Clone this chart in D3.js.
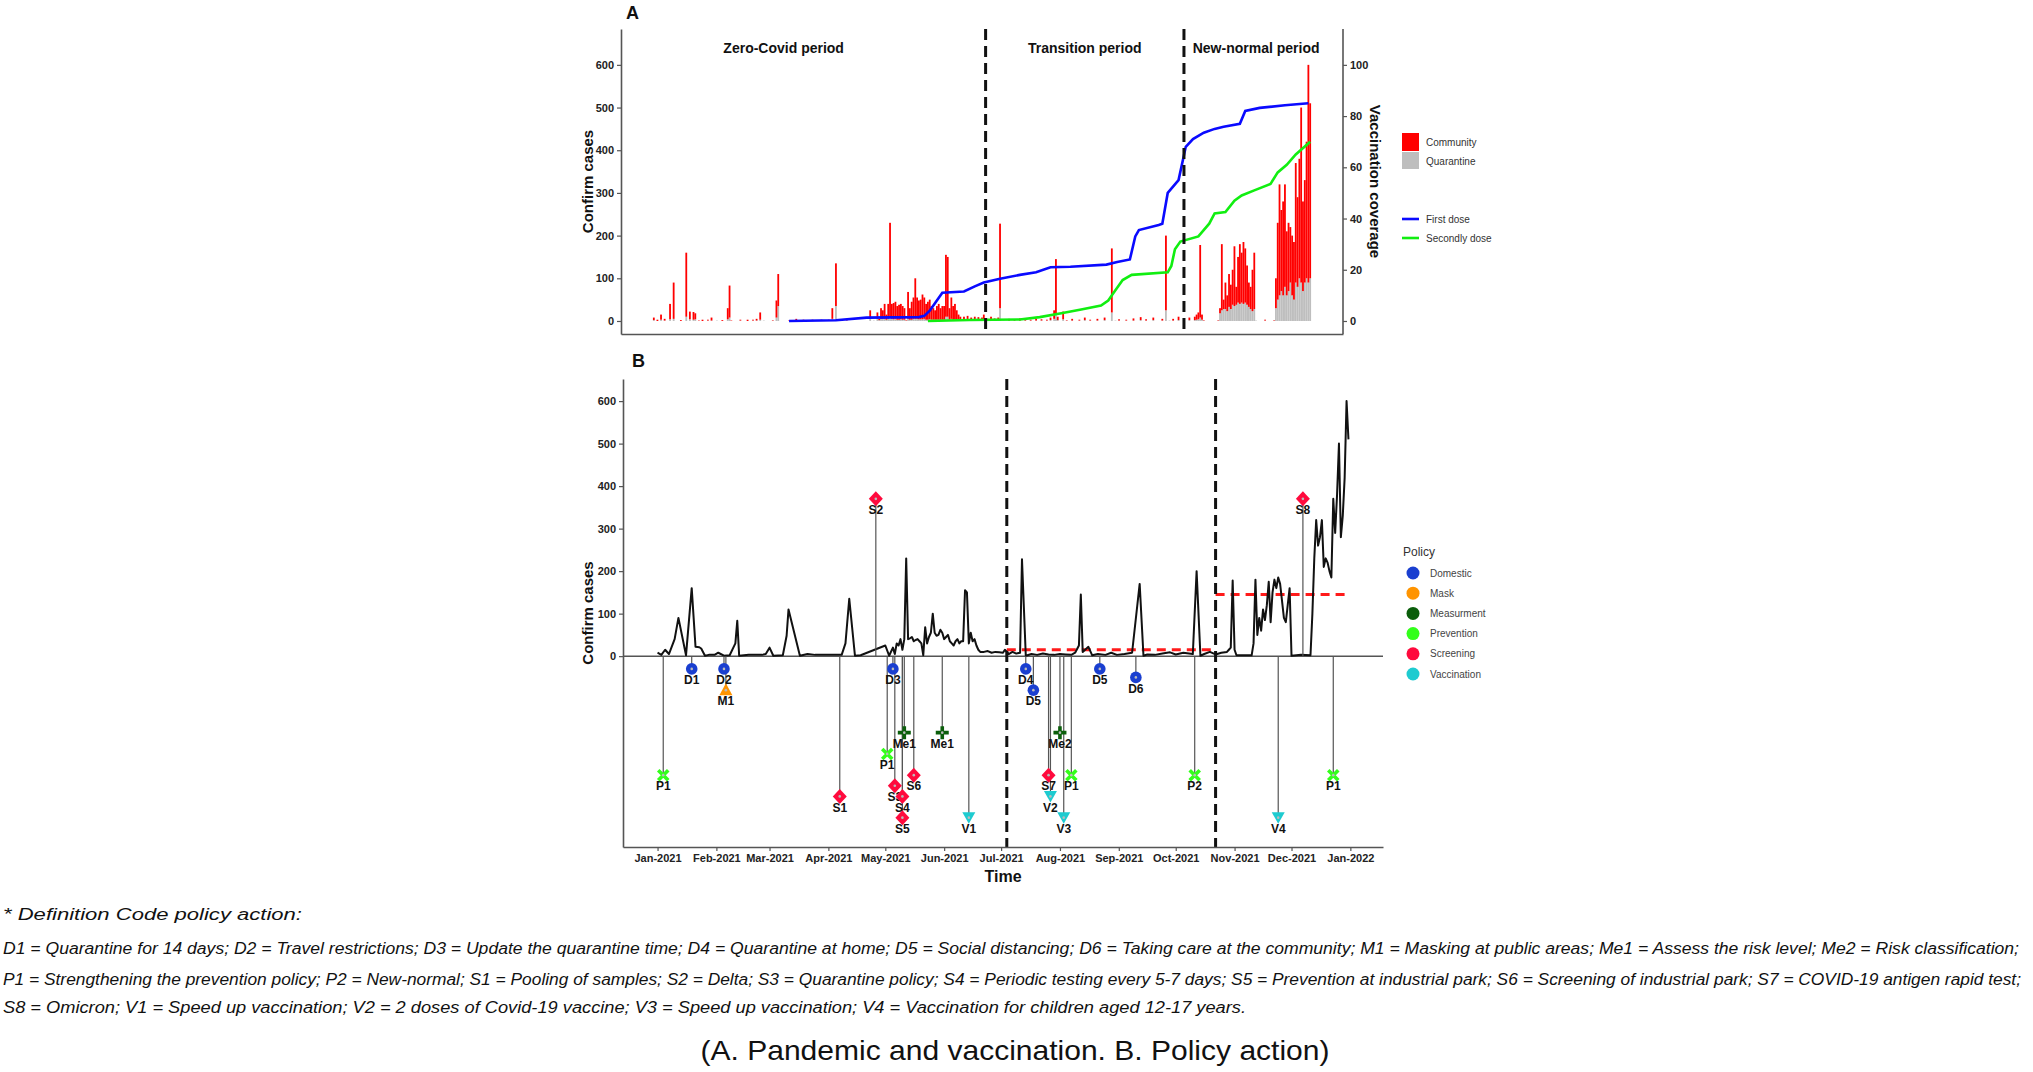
<!DOCTYPE html>
<html>
<head>
<meta charset="utf-8">
<script src="https://cdn.jsdelivr.net/npm/d3@7"></script>
<style>
  body { margin: 0; background: #fff; }
  svg { display: block; font-family: "Liberation Sans", Arial, sans-serif; }
</style>
</head>
<body>
<svg id="chart" width="2033" height="1072"></svg>
<script>
// ---- daily confirmed cases (days with reports only) ----
const caseDates = [
  "2021-01-01","2021-01-03","2021-01-05","2021-01-07","2021-01-10","2021-01-12","2021-01-16","2021-01-19",
  "2021-01-21","2021-01-23","2021-01-24","2021-01-26","2021-01-28","2021-01-31","2021-02-02","2021-02-05",
  "2021-02-08","2021-02-11","2021-02-12","2021-02-13","2021-02-18","2021-02-22","2021-02-25","2021-02-27",
  "2021-03-01","2021-03-03","2021-03-08","2021-03-10","2021-03-11","2021-03-17","2021-03-21","2021-03-25",
  "2021-03-30","2021-04-04","2021-04-08","2021-04-10","2021-04-12","2021-04-15","2021-04-18","2021-05-01",
  "2021-05-03","2021-05-05","2021-05-06","2021-05-07","2021-05-08","2021-05-09","2021-05-10","2021-05-11",
  "2021-05-12","2021-05-13","2021-05-14","2021-05-15","2021-05-16","2021-05-17","2021-05-18","2021-05-19",
  "2021-05-20","2021-05-21","2021-05-22","2021-05-23","2021-05-24","2021-05-25","2021-05-26","2021-05-27",
  "2021-05-28","2021-05-29","2021-05-30","2021-05-31","2021-06-01","2021-06-02","2021-06-03","2021-06-04",
  "2021-06-05","2021-06-06","2021-06-07","2021-06-08","2021-06-09","2021-06-10","2021-06-11","2021-06-12",
  "2021-06-13","2021-06-14","2021-06-15","2021-06-16","2021-06-17","2021-06-18","2021-06-19","2021-06-20",
  "2021-06-22","2021-06-24","2021-06-26","2021-06-28","2021-06-30","2021-07-02","2021-07-03","2021-07-05",
  "2021-07-07","2021-07-09","2021-07-11","2021-07-12","2021-07-14","2021-07-17","2021-07-20","2021-07-23",
  "2021-07-26","2021-07-29","2021-08-01","2021-08-04","2021-08-07","2021-08-09","2021-08-11","2021-08-12",
  "2021-08-13","2021-08-16","2021-08-18","2021-08-21","2021-08-25","2021-08-28","2021-08-31","2021-09-04",
  "2021-09-08","2021-09-12","2021-09-14","2021-09-16","2021-09-20","2021-09-24","2021-09-28","2021-10-01",
  "2021-10-05","2021-10-10","2021-10-12","2021-10-14","2021-10-16","2021-10-19","2021-10-22","2021-10-25",
  "2021-10-28","2021-10-29","2021-10-30","2021-10-31","2021-11-01","2021-11-02","2021-11-10","2021-11-11",
  "2021-11-12","2021-11-13","2021-11-14","2021-11-15","2021-11-16","2021-11-17","2021-11-18","2021-11-19",
  "2021-11-20","2021-11-21","2021-11-22","2021-11-23","2021-11-24","2021-11-25","2021-11-26","2021-11-27",
  "2021-11-28","2021-11-29","2021-11-30","2021-12-01","2021-12-06","2021-12-11","2021-12-12","2021-12-13",
  "2021-12-14","2021-12-15","2021-12-16","2021-12-17","2021-12-18","2021-12-19","2021-12-20","2021-12-21",
  "2021-12-22","2021-12-23","2021-12-24","2021-12-25","2021-12-26","2021-12-27","2021-12-28","2021-12-29",
  "2021-12-30","2021-12-31"
];
const communityCases = [
  6,3,12,4,36,85,2,150, 18,18,14,1,3,2,7,0, 2,26,75,1,2,3,2,4, 17,0,1,40,75,1,4,3,
  2,3,2,25,100,0,1,20, 0,15,3,25,20,35,12,35, 220,35,38,40,32,35,36,32, 27,1,63,27,42,50,95,50,
  44,46,58,50,37,42,46,32, 27,22,32,37,27,32,32,145, 140,27,50,32,36,22,12,8, 8,10,6,8,7,6,12,4,
  8,5,6,198,0,4,2,5, 3,2,4,3,2,6,20,130, 8,18,1,4,2,6,2,4, 6,150,0,3,2,5,7,3,
  6,4,175,0,4,8,3,6, 8,12,16,170,12,1,1,12, 155,22,62,37,77,57,82,140, 42,107,140,117,145,127,92,57,
  52,97,132,0,2,1,70,180, 260,190,220,240,150,160,130,140, 135,280,210,280,410,210,240,320, 510,410
];
const quarantineCases = [
  2,0,3,1,4,5,0,10, 4,3,4,0,0,1,1,1, 0,4,8,0,1,0,1,1, 3,1,1,8,35,0,1,0,
  1,0,1,5,35,1,1,5, 1,5,2,5,5,5,3,5, 10,5,4,5,3,3,4,3, 3,1,5,3,3,5,5,5,
  4,4,4,5,3,3,4,3, 3,3,3,3,3,3,3,10, 10,3,5,3,4,3,3,2, 2,2,2,2,2,2,3,1,
  2,1,2,30,1,1,1,1, 1,1,1,1,1,2,5,15, 2,4,1,1,1,2,1,1, 2,20,1,1,1,1,2,1,
  2,1,25,1,1,2,1,2, 2,3,4,8,3,1,1,18, 25,28,28,23,33,28,38,35, 38,43,40,43,40,43,38,33,
  28,23,28,1,1,1,30,50, 60,70,60,80,60,70,90,60, 50,90,80,100,90,70,90,100, 90,100
];

// ---- vaccination coverage (%) ----
const firstDoseDates = ["2021-03-17","2021-04-12","2021-04-29","2021-05-28","2021-05-31","2021-06-03","2021-06-06",
  "2021-06-10","2021-06-22","2021-06-28","2021-07-03","2021-07-12","2021-07-23","2021-08-01","2021-08-09",
  "2021-08-20","2021-09-09","2021-09-15","2021-09-22","2021-09-25","2021-09-27","2021-10-08","2021-10-10",
  "2021-10-13","2021-10-19","2021-10-23","2021-10-27","2021-11-02","2021-11-08","2021-11-13","2021-11-22",
  "2021-11-25","2021-12-03","2021-12-17","2021-12-30"];
const firstDoseValues = [0,0.3,1.3,1.5,2,4,7, 11,11.5,13.5,15,16.5,18,19,21, 21.2,22,23,24,33,35.5,37.5,38,
  50,55,68,71,73.5,75,75.8,77, 82,83.2,84.2,85];
const secondDoseDates = ["2021-06-02","2021-06-25","2021-07-23","2021-08-03","2021-08-15","2021-08-26","2021-09-06",
  "2021-09-10","2021-09-13","2021-09-18","2021-09-23","2021-10-13","2021-10-15","2021-10-17","2021-10-20",
  "2021-10-30","2021-11-05","2021-11-08","2021-11-14","2021-11-19","2021-11-23","2021-11-30","2021-12-09",
  "2021-12-13","2021-12-18","2021-12-23","2021-12-31"];
const secondDoseValues = [0,0.4,0.6,1.5,3,4.5,6, 8,11,16,18,19,21.5,28,31, 33,38,42,42.5,47,49,51,53.5,
  58,61,65,70];

// ---- periods ----
const periodBreaks = ["2021-07-04","2021-10-22"];
const periodNames = ["Zero-Covid period","Transition period","New-normal period"];
const periodLabelDates = ["2021-03-14","2021-08-28","2021-12-01"];
const meanStart = ["2021-07-04","2021-10-22"];
const meanEnd = ["2021-10-22","2022-01-01"];
const meanValues = [15, 145];

// ---- policy actions ----
const policyCodes = ["P1","D1","D2","M1","S1","S2","P1","D3","S3","S4","S5","Me1","S6","Me1","V1",
  "D4","D5","S7","V2","Me2","V3","P1","D5","D6","P2","V4","S8","P1"];
const policyDates = ["2021-01-04","2021-01-19","2021-02-05","2021-02-06","2021-04-07","2021-04-26","2021-05-02",
  "2021-05-05","2021-05-06","2021-05-10","2021-05-10","2021-05-11","2021-05-16","2021-05-31","2021-06-14",
  "2021-07-14","2021-07-18","2021-07-26","2021-07-27","2021-08-01","2021-08-03","2021-08-07","2021-08-22",
  "2021-09-10","2021-10-11","2021-11-24","2021-12-07","2021-12-23"];
const policyLevels = [-280,-30,-30,-80,-330,370,-230,-30,-305,-330,-380,-180,-280,-180,-380,
  -30,-80,-280,-330,-180,-380,-280,-30,-50,-280,-380,370,-280];
const policyTypeOf = ["Prevention","Domestic","Domestic","Mask","Screening","Screening","Prevention",
  "Domestic","Screening","Screening","Screening","Measurment","Screening","Measurment","Vaccination",
  "Domestic","Domestic","Screening","Vaccination","Measurment","Vaccination","Prevention","Domestic",
  "Domestic","Prevention","Vaccination","Screening","Prevention"];
const policyTypes = ["Domestic","Mask","Measurment","Prevention","Screening","Vaccination"];
const policyColors = ["#1a3fd0","#ff9400","#0b5e0b","#33ff1a","#ff0a3d","#1ecbd0"];

const monthTicks = ["2021-01-01","2021-02-01","2021-03-01","2021-04-01","2021-05-01","2021-06-01","2021-07-01",
  "2021-08-01","2021-09-01","2021-10-01","2021-11-01","2021-12-01","2022-01-01"];
const caseTicks = [0,100,200,300,400,500,600];
const coverageTicks = [0,20,40,60,80,100];

const footLines = [
  "* Definition Code policy action:",
  "D1 = Quarantine for 14 days; D2 = Travel restrictions; D3 = Update  the quarantine time; D4 =  Quarantine at home; D5 = Social distancing; D6 = Taking care at the community; M1 = Masking at public areas; Me1 = Assess the risk level; Me2 = Risk classification;",
  "P1 = Strengthening the prevention policy; P2 = New-normal; S1 = Pooling of samples; S2 = Delta; S3 = Quarantine policy; S4 = Periodic testing every 5-7 days; S5 = Prevention at industrial park; S6 = Screening of industrial park; S7 = COVID-19 antigen rapid test;",
  "S8 = Omicron; V1 = Speed up vaccination; V2 = 2 doses of Covid-19 vaccine; V3 = Speed up vaccination; V4 = Vaccination for children aged 12-17 years."
];
const caption = "(A. Pandemic and vaccination. B. Policy action)";

// ------------------------------------------------------------------
const parse = d3.timeParse("%Y-%m-%d");
const DAY = 864e5;
const cases = caseDates.map((d, i) => ({
  date: parse(d), comm: communityCases[i], quar: quarantineCases[i],
  total: communityCases[i] + quarantineCases[i]
}));
const policies = policyCodes.map((c, i) => ({
  code: c, date: parse(policyDates[i]), level: policyLevels[i], type: policyTypeOf[i]
}));
const colorOf = d3.scaleOrdinal().domain(policyTypes).range(policyColors);

const svg = d3.select("#chart");
svg.append("rect").attr("width", 2033).attr("height", 1072).attr("fill", "#fff");

const ext = [parse("2021-01-01"), parse("2021-12-31")];
function expand(e, f) {
  const span = e[1] - e[0];
  return [new Date(+e[0] - span * f), new Date(+e[1] + span * f)];
}

function styleAxis(g) {
  g.select(".domain").attr("stroke", "#555").attr("stroke-width", 1.6);
  g.selectAll(".tick line").attr("stroke", "#555").attr("stroke-width", 1.2);
  g.selectAll(".tick text")
    .attr("font-family", "Liberation Sans, Arial, sans-serif")
    .attr("font-weight", "bold").attr("font-size", 11).attr("fill", "#222");
}

// ================= Panel A =================
const A = { left: 621, right: 1343, top: 29, bottom: 334 };
const xA = d3.scaleTime().domain(expand(ext, 0.05)).range([A.left, A.right]);
const yA = d3.scaleLinear().domain([-30.5, 684]).range([A.bottom, A.top]);
const yV = d3.scaleLinear().domain([0, 100]).range([yA(0), yA(600)]);

const gA = svg.append("g");

// stacked bars
const barX = d => xA(new Date(+d.date - 0.5 * DAY));
const barW = d => xA(new Date(+d.date + 0.5 * DAY)) - barX(d);
gA.append("g").selectAll("rect").data(cases).enter().append("rect")
  .attr("x", barX).attr("width", barW)
  .attr("y", d => yA(d.quar)).attr("height", d => yA(0) - yA(d.quar))
  .attr("fill", "#bebebe");
gA.append("g").selectAll("rect").data(cases).enter().append("rect")
  .attr("x", barX).attr("width", barW)
  .attr("y", d => yA(d.quar + d.comm)).attr("height", d => yA(d.quar) - yA(d.quar + d.comm))
  .attr("fill", "#ff0000");

// vaccination lines
const vLine = d3.line().x(d => xA(d[0])).y(d => yV(d[1]));
gA.append("path")
  .datum(firstDoseDates.map((d, i) => [parse(d), firstDoseValues[i]]))
  .attr("d", vLine).attr("fill", "none").attr("stroke", "#0a0aff").attr("stroke-width", 2.6);
gA.append("path")
  .datum(secondDoseDates.map((d, i) => [parse(d), secondDoseValues[i]]))
  .attr("d", vLine).attr("fill", "none").attr("stroke", "#11ee11").attr("stroke-width", 2.6);

// period dividers
gA.selectAll(".vdash").data(periodBreaks).enter().append("line")
  .attr("x1", d => xA(parse(d))).attr("x2", d => xA(parse(d)))
  .attr("y1", A.top).attr("y2", A.bottom)
  .attr("stroke", "#111").attr("stroke-width", 3).attr("stroke-dasharray", "11,6");

gA.selectAll(".plabel").data(periodNames).enter().append("text")
  .attr("x", (d, i) => xA(parse(periodLabelDates[i])))
  .attr("y", yA(640)).attr("dy", "0.35em")
  .attr("text-anchor", "middle").attr("font-weight", "bold").attr("font-size", 14)
  .attr("fill", "#111").text(d => d);

// axes
gA.append("g").attr("transform", `translate(${A.left},0)`)
  .call(d3.axisLeft(yA).tickValues(caseTicks).tickSize(4).tickPadding(3).tickSizeOuter(0))
  .call(styleAxis);
gA.append("g").attr("transform", `translate(${A.right},0)`)
  .call(d3.axisRight(yV).tickValues(coverageTicks).tickSize(4).tickPadding(3).tickSizeOuter(0))
  .call(g => g.select(".domain").attr("d", `M0,${A.top}V${A.bottom}`))
  .call(styleAxis);
gA.append("g").attr("transform", `translate(0,${A.bottom})`)
  .call(d3.axisBottom(xA).tickValues([]).tickSizeOuter(0))
  .call(styleAxis);

gA.append("text").attr("transform", `translate(588,${(A.top + A.bottom) / 2}) rotate(-90)`)
  .attr("text-anchor", "middle").attr("dy", "0.35em")
  .attr("font-weight", "bold").attr("font-size", 15).attr("fill", "#111").text("Confirm cases");
gA.append("text").attr("transform", `translate(1375,${(A.top + A.bottom) / 2}) rotate(90)`)
  .attr("text-anchor", "middle").attr("dy", "0.35em")
  .attr("font-weight", "bold").attr("font-size", 15).attr("fill", "#111").text("Vaccination coverage");
gA.append("text").attr("x", 626).attr("y", 19)
  .attr("font-weight", "bold").attr("font-size", 18).attr("fill", "#111").text("A");

// legend A
const legA = svg.append("g").attr("font-size", 10).attr("fill", "#333");
legA.append("rect").attr("x", 1402).attr("y", 133).attr("width", 17).attr("height", 18).attr("fill", "#ff0000");
legA.append("rect").attr("x", 1402).attr("y", 152).attr("width", 17).attr("height", 17).attr("fill", "#bebebe");
legA.append("text").attr("x", 1426).attr("y", 142).attr("dy", "0.35em").text("Community");
legA.append("text").attr("x", 1426).attr("y", 161).attr("dy", "0.35em").text("Quarantine");
legA.append("line").attr("x1", 1402).attr("x2", 1419).attr("y1", 219).attr("y2", 219)
  .attr("stroke", "#0a0aff").attr("stroke-width", 2.6);
legA.append("line").attr("x1", 1402).attr("x2", 1419).attr("y1", 238).attr("y2", 238)
  .attr("stroke", "#11ee11").attr("stroke-width", 2.6);
legA.append("text").attr("x", 1426).attr("y", 219).attr("dy", "0.35em").text("First dose");
legA.append("text").attr("x", 1426).attr("y", 238).attr("dy", "0.35em").text("Secondly dose");

// ================= Panel B =================
const B = { left: 623, right: 1383, top: 379, bottom: 847 };
const xB = d3.scaleTime().domain(expand(ext, 0.05)).range([B.left, B.right]);
const yB = d3.scaleLinear().domain([-449, 652]).range([B.bottom, B.top]);
const gB = svg.append("g");

gB.append("line").attr("x1", B.left).attr("x2", B.right).attr("y1", yB(0)).attr("y2", yB(0))
  .attr("stroke", "#555").attr("stroke-width", 1.5);

// period means
gB.selectAll(".mean").data(meanValues).enter().append("line")
  .attr("x1", (d, i) => xB(parse(meanStart[i]))).attr("x2", (d, i) => xB(parse(meanEnd[i])))
  .attr("y1", d => yB(d)).attr("y2", d => yB(d))
  .attr("stroke", "#ff1a1a").attr("stroke-width", 3).attr("stroke-dasharray", "9,6");

// daily total line
gB.append("path").datum(cases)
  .attr("d", d3.line().x(d => xB(d.date)).y(d => yB(d.total)))
  .attr("fill", "none").attr("stroke", "#111").attr("stroke-width", 2).attr("stroke-linejoin", "round");

gB.selectAll(".vdash").data(periodBreaks).enter().append("line")
  .attr("x1", d => xB(parse(d))).attr("x2", d => xB(parse(d)))
  .attr("y1", B.top).attr("y2", B.bottom)
  .attr("stroke", "#111").attr("stroke-width", 3).attr("stroke-dasharray", "11,6");

// stems
gB.selectAll(".stem").data(policies).enter().append("line")
  .attr("x1", d => xB(d.date)).attr("x2", d => xB(d.date))
  .attr("y1", yB(0)).attr("y2", d => yB(d.level))
  .attr("stroke", "#555").attr("stroke-width", 1.2);

// labels
gB.selectAll(".plab").data(policies).enter().append("text")
  .attr("x", d => xB(d.date)).attr("y", d => yB(d.level) + 11).attr("dy", "0.35em")
  .attr("text-anchor", "middle").attr("font-weight", "bold").attr("font-size", 12)
  .attr("fill", "#111").text(d => d.code);

// markers
const shapePath = {
  Domestic: null,
  Mask: "M0,-7L6.5,5L-6.5,5Z",
  Measurment: "M-6.5,0H6.5M0,-6.5V6.5",
  Prevention: "M-5,-5L5,5M-5,5L5,-5",
  Screening: "M0,-7.5L7,0L0,7.5L-7,0Z",
  Vaccination: "M0,6L6.5,-5.5L-6.5,-5.5Z"
};
const mk = gB.selectAll(".mk").data(policies).enter().append("g")
  .attr("transform", d => `translate(${xB(d.date)},${yB(d.level)})`);
mk.each(function(d) {
  const g = d3.select(this);
  const col = colorOf(d.type);
  if (d.type === "Domestic") {
    g.append("circle").attr("r", 5.8).attr("fill", col);
  } else if (d.type === "Measurment" || d.type === "Prevention") {
    g.append("path").attr("d", shapePath[d.type]).attr("stroke", col)
      .attr("stroke-width", 3.6).attr("fill", "none");
  } else {
    g.append("path").attr("d", shapePath[d.type]).attr("fill", col);
  }
  g.append("circle").attr("r", 1.3).attr("fill", "#bbb");
});

// axes B
gB.append("g").attr("transform", `translate(${B.left},0)`)
  .call(d3.axisLeft(yB).tickValues(caseTicks).tickSize(4).tickPadding(3).tickSizeOuter(0))
  .call(styleAxis);
gB.append("g").attr("transform", `translate(0,${B.bottom})`)
  .call(d3.axisBottom(xB).tickValues(monthTicks.map(parse)).tickFormat(d3.timeFormat("%b-%Y"))
    .tickSize(4).tickPadding(3).tickSizeOuter(0))
  .call(styleAxis);

gB.append("text").attr("transform", `translate(588,${(B.top + B.bottom) / 2}) rotate(-90)`)
  .attr("text-anchor", "middle").attr("dy", "0.35em")
  .attr("font-weight", "bold").attr("font-size", 15).attr("fill", "#111").text("Confirm cases");
gB.append("text").attr("x", (B.left + B.right) / 2).attr("y", 876).attr("dy", "0.35em")
  .attr("text-anchor", "middle").attr("font-weight", "bold").attr("font-size", 16)
  .attr("fill", "#111").text("Time");
gB.append("text").attr("x", 632).attr("y", 367)
  .attr("font-weight", "bold").attr("font-size", 18).attr("fill", "#111").text("B");

// legend B
const legB = svg.append("g");
legB.append("text").attr("x", 1403).attr("y", 552).attr("dy", "0.35em")
  .attr("font-size", 12).attr("fill", "#333").text("Policy");
const legItems = legB.selectAll(".li").data(policyTypes).enter().append("g")
  .attr("transform", (d, i) => `translate(0,${573 + i * 20.2})`);
legItems.append("circle").attr("cx", 1413).attr("r", 6.5).attr("fill", d => colorOf(d));
legItems.append("text").attr("x", 1430).attr("dy", "0.35em")
  .attr("font-size", 10).attr("fill", "#444").text(d => d);

// ================= Footnote =================
const footY = [920, 954, 985, 1013];
const footW = [299, 2016, 2018, 1243];
svg.append("g").selectAll("text").data(footLines).enter().append("text")
  .attr("x", 3).attr("y", (d, i) => footY[i])
  .attr("font-style", "italic").attr("font-size", 16).attr("fill", "#111")
  .attr("textLength", (d, i) => footW[i]).attr("lengthAdjust", "spacingAndGlyphs")
  .text(d => d);
svg.append("text").attr("x", 1015).attr("y", 1060).attr("text-anchor", "middle")
  .attr("font-size", 28).attr("fill", "#111")
  .attr("textLength", 629).attr("lengthAdjust", "spacingAndGlyphs")
  .text(caption);
</script>
</body>
</html>
